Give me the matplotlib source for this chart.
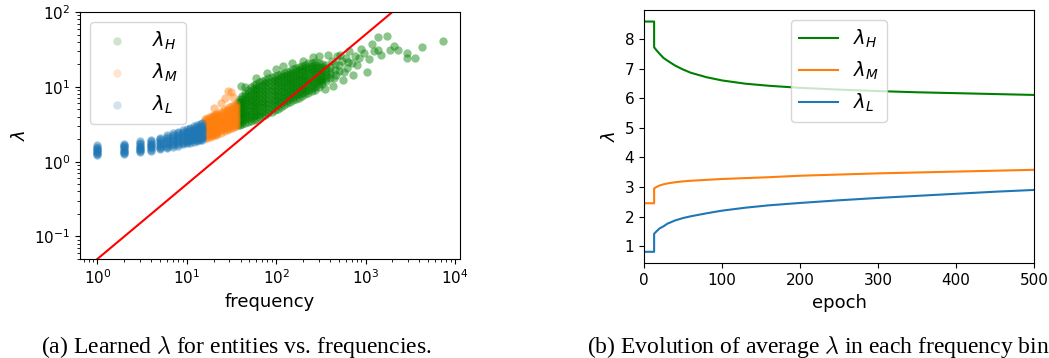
import matplotlib.pyplot as plt

plt.rcParams['font.family'] = 'DejaVu Sans'
plt.rcParams['font.size'] = 11

## (a) learned lambda per entity, grouped into frequency bins
# low bin (blue)
low_freq = [1, 2, 3, 4, 5, 6, 7, 8, 9, 10, 11, 12, 13, 14, 15]
low_lam = [
    [1.24, 1.28, 1.32, 1.36, 1.4, 1.44, 1.48, 1.53, 1.58, 1.65],
    [1.28, 1.32, 1.36, 1.4, 1.45, 1.5, 1.55, 1.6, 1.66, 1.74],
    [1.33, 1.37, 1.42, 1.47, 1.52, 1.57, 1.63, 1.7, 1.78, 1.86],
    [1.4, 1.45, 1.5, 1.55, 1.6, 1.66, 1.73, 1.8, 1.88, 1.96],
    [1.48, 1.53, 1.58, 1.64, 1.7, 1.77, 1.85, 1.93, 2.02, 2.1],
    [1.52, 1.58, 1.64, 1.71, 1.78, 1.86, 1.95, 2.05, 2.15, 2.24],
    [1.58, 1.65, 1.72, 1.8, 1.88, 1.97, 2.07, 2.18, 2.28, 2.38],
    [1.64, 1.71, 1.79, 1.87, 1.96, 2.06, 2.17, 2.29, 2.4, 2.5],
    [1.7, 1.77, 1.85, 1.94, 2.04, 2.15, 2.27, 2.38, 2.5, 2.62],
    [1.75, 1.83, 1.92, 2.01, 2.12, 2.23, 2.36, 2.48, 2.6, 2.74],
    [1.8, 1.88, 1.97, 2.07, 2.18, 2.3, 2.43, 2.56, 2.7, 2.85],
    [1.84, 1.93, 2.02, 2.13, 2.24, 2.37, 2.5, 2.64, 2.79, 2.95],
    [1.88, 1.97, 2.07, 2.18, 2.3, 2.43, 2.57, 2.72, 2.88, 3.05],
    [1.92, 2.01, 2.11, 2.22, 2.35, 2.49, 2.63, 2.79, 2.96, 3.14],
    [1.95, 2.05, 2.15, 2.27, 2.4, 2.54, 2.69, 2.86, 3.04, 3.24],
]

# middle bin (orange)
mid_freq = [16, 17, 18, 19, 20, 21, 22, 24, 26, 28, 30, 32, 34, 36]
mid_lam = [
    [2.05, 2.19, 2.34, 2.5, 2.67, 2.85, 3.04, 3.25, 3.47, 3.7],
    [2.1, 2.24, 2.4, 2.56, 2.73, 2.92, 3.12, 3.33, 3.56, 3.8],
    [2.15, 2.3, 2.46, 2.63, 2.81, 3.0, 3.21, 3.43, 3.68, 3.95],
    [2.2, 2.35, 2.52, 2.69, 2.88, 3.08, 3.3, 3.53, 3.78, 4.05],
    [2.25, 2.41, 2.58, 2.76, 2.95, 3.16, 3.39, 3.63, 3.9, 4.2],
    [2.3, 2.46, 2.64, 2.82, 3.02, 3.24, 3.47, 3.72, 4.0, 4.3],
    [2.35, 2.52, 2.7, 2.89, 3.1, 3.32, 3.56, 3.82, 4.1, 4.4],
    [2.45, 2.63, 2.82, 3.02, 3.24, 3.48, 3.74, 4.02, 4.32, 4.65],
    [2.55, 2.74, 2.94, 3.16, 3.39, 3.64, 3.91, 4.2, 4.54, 4.9],
    [2.65, 2.85, 3.06, 3.28, 3.52, 3.78, 4.06, 4.37, 4.72, 5.1],
    [2.72, 2.93, 3.15, 3.38, 3.63, 3.9, 4.19, 4.51, 4.88, 5.3],
    [2.8, 3.01, 3.24, 3.48, 3.74, 4.02, 4.32, 4.66, 5.05, 5.5],
    [2.9, 3.12, 3.35, 3.6, 3.87, 4.16, 4.47, 4.82, 5.23, 5.7],
    [3.0, 3.22, 3.46, 3.72, 4.0, 4.3, 4.62, 4.98, 5.4, 5.9],
]
mid_out_freq = [20, 24, 27, 29, 31, 33]
mid_out_lam = [5.2, 6.0, 7.0, 8.7, 8.5, 7.4]

# high bin (green)
high_freq = [37, 39, 42, 45, 48, 52, 56, 60, 65, 70, 76, 82, 89, 96, 104, 113,
             122, 132, 143, 155, 168, 182, 197, 213, 230, 250, 275, 300, 330,
             365, 400]
high_lam = [
    [3.05, 3.3, 3.57, 3.86, 4.18, 4.52, 4.89, 5.29, 5.73, 6.2],
    [3.1, 3.38, 3.69, 4.03, 4.39, 4.79, 5.23, 5.7, 6.22, 6.8],
    [3.2, 3.52, 3.88, 4.27, 4.7, 5.18, 5.7, 6.27, 6.91, 7.6],
    [3.3, 3.66, 4.05, 4.49, 4.97, 5.51, 6.1, 6.76, 7.49, 8.3],
    [3.4, 3.79, 4.22, 4.7, 5.24, 5.83, 6.5, 7.24, 8.07, 9.0],
    [3.5, 3.92, 4.4, 4.93, 5.53, 6.2, 6.95, 7.79, 8.74, 9.8],
    [3.6, 4.05, 4.56, 5.14, 5.79, 6.52, 7.34, 8.27, 9.31, 10.5],
    [3.75, 4.23, 4.76, 5.37, 6.05, 6.82, 7.68, 8.66, 9.76, 11.0],
    [3.9, 4.4, 4.96, 5.6, 6.32, 7.13, 8.04, 9.07, 10.2, 11.5],
    [4.05, 4.57, 5.16, 5.82, 6.56, 7.4, 8.35, 9.42, 10.6, 12.0],
    [4.25, 4.79, 5.4, 6.08, 6.86, 7.73, 8.71, 9.82, 11.1, 12.5],
    [4.45, 5.01, 5.64, 6.35, 7.15, 8.06, 9.07, 10.2, 11.5, 13.0],
    [4.65, 5.24, 5.9, 6.64, 7.48, 8.42, 9.48, 10.7, 12.0, 13.5],
    [4.9, 5.51, 6.19, 6.96, 7.82, 8.79, 9.88, 11.1, 12.5, 14.0],
    [5.1, 5.73, 6.43, 7.22, 8.11, 9.11, 10.2, 11.5, 12.9, 14.5],
    [5.4, 6.05, 6.77, 7.59, 8.5, 9.52, 10.7, 12.0, 13.4, 15.0],
    [5.7, 6.37, 7.12, 7.96, 8.9, 9.95, 11.1, 12.4, 13.9, 15.5],
    [6.0, 6.69, 7.46, 8.32, 9.27, 10.3, 11.5, 12.8, 14.3, 16.0],
    [6.3, 7.01, 7.8, 8.68, 9.66, 10.8, 12.0, 13.3, 14.8, 16.5],
    [6.6, 7.34, 8.16, 9.07, 10.1, 11.2, 12.5, 13.9, 15.4, 17.2],
    [6.9, 7.67, 8.53, 9.49, 10.5, 11.7, 13.0, 14.5, 16.1, 18.0],
    [7.2, 8.0, 8.89, 9.87, 11.0, 12.2, 13.5, 15.0, 16.7, 18.6],
    [7.5, 8.33, 9.24, 10.3, 11.4, 12.6, 14.0, 15.6, 17.3, 19.2],
    [7.9, 8.75, 9.68, 10.7, 11.9, 13.1, 14.5, 16.1, 17.9, 19.8],
    [8.3, 9.18, 10.2, 11.2, 12.4, 13.7, 15.2, 16.8, 18.5, 20.5],
    [8.7, 9.6, 10.6, 11.7, 12.9, 14.2, 15.6, 17.2, 19.0, 21.0],
    [9.2, 10.1, 11.1, 12.2, 13.4, 14.7, 16.1, 17.7, 19.5, 21.5],
    [9.8, 10.8, 11.8, 12.9, 14.1, 15.4, 16.8, 18.4, 20.5],
    [10.8, 11.8, 12.9, 14.1, 15.4, 16.8, 18.4, 20.2],
    [12.0, 13.2, 14.6, 16.0, 17.6, 19.4],
    [13.2, 14.8, 16.5, 18.4],
]
high_out_freq = [40, 45, 60, 80, 100, 120, 150, 200, 260, 300, 350, 380, 430,
                 440, 460, 480, 500, 520, 540, 560, 600, 620, 660, 700, 720,
                 760, 800, 850, 880, 950, 1030, 1080, 1170, 1250, 1380, 1380,
                 1500, 1740, 1870, 2100, 2300, 2900, 2900, 3550, 4300, 7300,
                 420, 450, 470, 510, 580, 640]
high_out_lam = [10.2, 10.0, 13.0, 15.5, 17.5, 19.0, 20.5, 22.0, 25.0, 25.5,
                9.3, 27.0, 10.2, 13.0, 20.0, 25.5, 16.5, 27.0, 22.0, 12.5,
                24.0, 18.0, 30.0, 21.0, 14.6, 26.0, 19.8, 24.5, 32.0, 28.0,
                16.0, 23.5, 37.7, 30.0, 46.6, 30.6, 27.0, 48.0, 31.5, 35.0,
                31.5, 28.6, 24.6, 24.0, 34.0, 41.0,
                22.0, 17.0, 14.5, 19.5, 16.0, 21.5]

# reference line lambda = freq / 20
ref_freq = [1, 10000]
ref_lam = [0.05, 500]

## (b) average lambda of each bin over training
epoch = [0, 13, 13, 16, 20, 25, 30, 40, 50, 60, 80, 100, 130, 160, 200, 250,
         300, 350, 400, 450, 500]
avg_high = [8.59, 8.59, 7.72, 7.62, 7.5, 7.36, 7.27, 7.1, 6.97, 6.86, 6.71,
            6.6, 6.49, 6.42, 6.35, 6.29, 6.24, 6.2, 6.17, 6.14, 6.11]
avg_mid = [2.45, 2.45, 2.95, 3.0, 3.05, 3.09, 3.12, 3.16, 3.19, 3.21, 3.24,
           3.27, 3.3, 3.33, 3.38, 3.42, 3.46, 3.49, 3.52, 3.55, 3.58]
avg_low = [0.81, 0.81, 1.42, 1.5, 1.6, 1.67, 1.76, 1.87, 1.95, 2.01, 2.11,
           2.2, 2.3, 2.38, 2.46, 2.55, 2.63, 2.7, 2.77, 2.84, 2.9]


def flatten(freqs, lams):
    xs, ys = [], []
    for f, col in zip(freqs, lams):
        xs += [f] * len(col)
        ys += col
    return xs, ys


hx, hy = flatten(high_freq, high_lam)
mx, my = flatten(mid_freq, mid_lam)
lx, ly = flatten(low_freq, low_lam)

fig = plt.figure(figsize=(10.49, 3.58), dpi=100)
ax1 = fig.add_axes([0.0763, 0.2765, 0.3622, 0.69])
ax2 = fig.add_axes([0.6139, 0.2645, 0.3718, 0.7075])

# denser alpha than the legend so the packed core reads as solid
a = 0.45
ax1.scatter(hx + high_out_freq, hy + high_out_lam, s=36, color='g', alpha=a,
            label=r'$\lambda_H$', linewidths=0)
ax1.scatter(mx + mid_out_freq, my + mid_out_lam, s=36, color='tab:orange',
            alpha=a, label=r'$\lambda_M$', linewidths=0)
ax1.scatter(lx, ly, s=36, color='tab:blue', alpha=a, label=r'$\lambda_L$',
            linewidths=0)
ax1.plot(ref_freq, ref_lam, color='red', lw=1.5)
ax1.set_xscale('log')
ax1.set_yscale('log')
ax1.set_xlim(0.64, 11400)
ax1.set_ylim(0.05, 100)
ax1.set_xlabel('frequency', fontsize=13)
ax1.set_ylabel(r'$\lambda$', fontsize=13)
leg1 = ax1.legend(loc='upper left', fontsize=14)
for h in leg1.legend_handles:
    h.set_alpha(0.2)

ax2.plot(epoch, avg_high, color='g', label=r'$\lambda_H$')
ax2.plot(epoch, avg_mid, color='tab:orange', label=r'$\lambda_M$')
ax2.plot(epoch, avg_low, color='tab:blue', label=r'$\lambda_L$')
ax2.set_xlim(0, 500)
ax2.set_yticks(range(1, 9))
ax2.set_xlabel('epoch', fontsize=13)
ax2.set_ylabel(r'$\lambda$', fontsize=13)
ax2.legend(loc='upper center', fontsize=14)

fig.text(0.225, 0.0148, r'(a) Learned $\lambda$ for entities vs. frequencies.',
         ha='center', va='baseline', fontsize=17, family='Liberation Serif',
         math_fontfamily='cm')
fig.text(0.780, 0.0148, r'(b) Evolution of average $\lambda$ in each frequency bin',
         ha='center', va='baseline', fontsize=17, family='Liberation Serif',
         math_fontfamily='cm')

fig.savefig('out.png', dpi=100)
